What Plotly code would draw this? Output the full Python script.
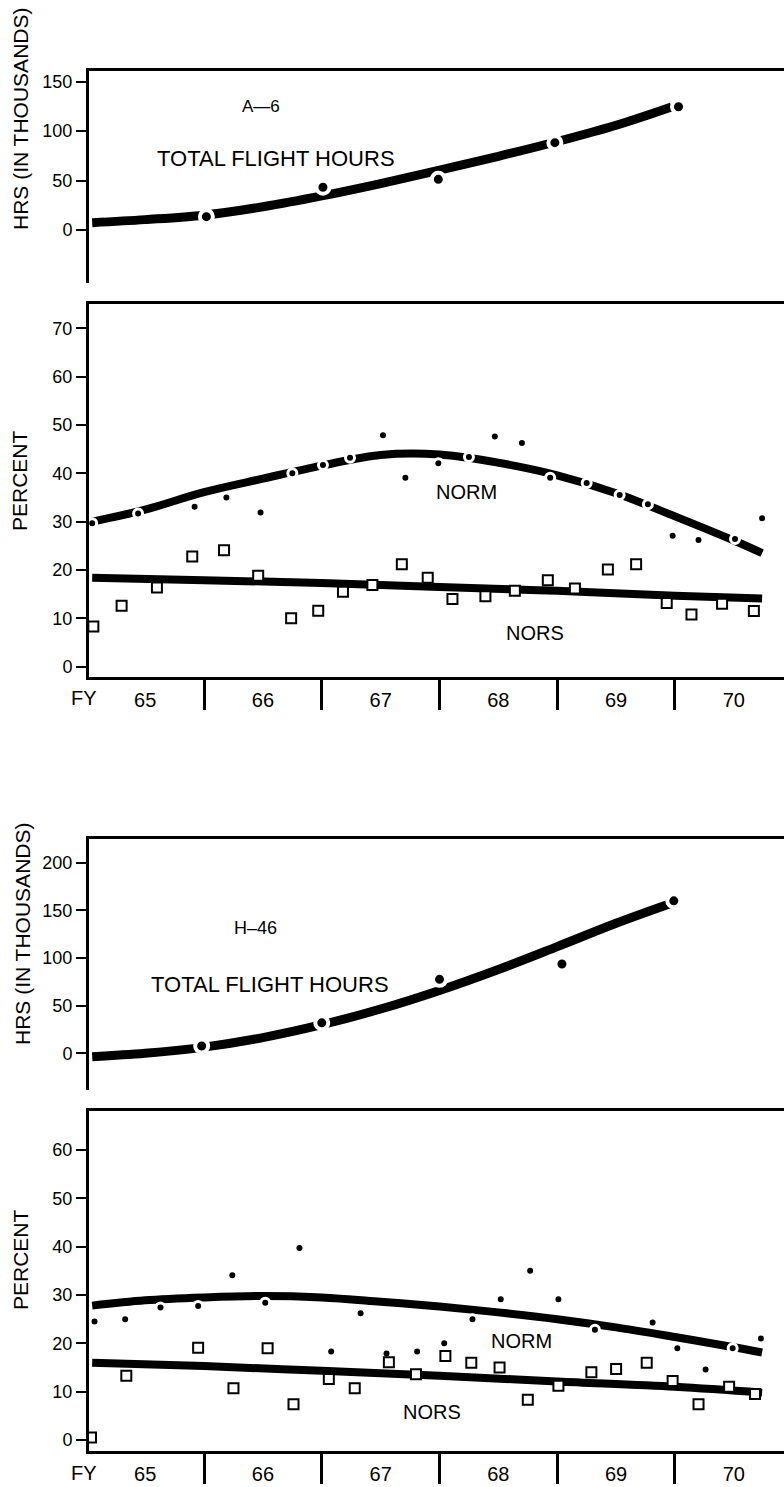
import plotly.graph_objects as go

FONT = "Liberation Sans, Arial, sans-serif"

# Fiscal-year scale: each FY is centred on its integer, boundaries fall on .5
fy_ticks = [65, 66, 67, 68, 69, 70]
fy_labels = ["65", "66", "67", "68", "69", "70"]
fy_bounds = [65.5, 66.5, 67.5, 68.5, 69.5]

# ---------------- A-6 ----------------
# total flight hours (thousands): fitted curve and yearly totals
a6_hrs_fit_x = [64.55, 65.0, 65.5, 66.0, 66.5, 67.0, 67.5, 68.0, 68.5, 69.0, 69.47]
a6_hrs_fit_y = [7.4, 10.5, 15.0, 23.5, 34.5, 47.0, 60.5, 74.5, 89.5, 106.0, 124.5]
a6_hrs_x = [65.52, 66.51, 67.49, 68.48, 69.53]
a6_hrs_y = [13.5, 43.2, 51.2, 88.3, 124.7]

# NORM percent: fitted curve and quarterly values
a6_norm_fit_x = [64.55, 65.0, 65.5, 66.0, 66.5, 67.0, 67.5, 68.0, 68.5, 69.0, 69.5, 70.0, 70.24]
a6_norm_fit_y = [30.0, 32.5, 36.1, 38.9, 41.6, 43.8, 43.9, 42.2, 39.6, 35.9, 31.1, 26.1, 23.5]
a6_norm_x = [64.55, 64.94, 65.42, 65.69, 65.98, 66.25, 66.51, 66.74, 67.02, 67.21, 67.49,
             67.75, 67.97, 68.20, 68.44, 68.75, 69.03, 69.27, 69.48, 69.70, 70.01, 70.24]
a6_norm_y = [29.7, 31.7, 33.1, 35.0, 31.9, 40.0, 41.7, 43.2, 47.9, 39.1, 42.1,
             43.4, 47.6, 46.3, 39.1, 38.0, 35.5, 33.6, 27.1, 26.2, 26.4, 30.7]

# NORS percent: fitted line and quarterly values
a6_nors_fit_x = [64.55, 65.5, 66.5, 67.5, 68.5, 69.5, 70.24]
a6_nors_fit_y = [18.4, 17.9, 17.3, 16.5, 15.7, 14.7, 14.1]
a6_nors_x = [64.56, 64.80, 65.10, 65.40, 65.67, 65.96, 66.24, 66.47, 66.68, 66.93, 67.18, 67.40,
             67.61, 67.89, 68.14, 68.42, 68.65, 68.93, 69.17, 69.43, 69.64, 69.90, 70.17]
a6_nors_y = [8.3, 12.6, 16.4, 22.8, 24.1, 18.8, 10.0, 11.6, 15.5, 16.9, 21.2, 18.4,
             14.0, 14.6, 15.7, 17.9, 16.2, 20.1, 21.2, 13.2, 10.8, 13.0, 11.5]

# ---------------- H-46 ----------------
h46_hrs_fit_x = [64.55, 65.0, 65.5, 66.0, 66.5, 67.0, 67.5, 68.0, 68.5, 69.0, 69.47]
h46_hrs_fit_y = [-3.5, 0.0, 6.5, 16.5, 30.0, 46.5, 66.0, 88.0, 112.0, 136.5, 157.5]
h46_hrs_x = [65.48, 66.50, 67.50, 68.54, 69.49]
h46_hrs_y = [7.7, 32.0, 77.6, 93.7, 160.0]

h46_norm_fit_x = [64.55, 65.0, 65.5, 66.0, 66.5, 67.0, 67.5, 68.0, 68.5, 69.0, 69.5, 70.0, 70.24]
h46_norm_fit_y = [27.8, 28.9, 29.5, 29.8, 29.5, 28.6, 27.6, 26.4, 25.0, 23.3, 21.3, 19.2, 18.1]
h46_norm_x = [64.57, 64.83, 65.13, 65.45, 65.74, 66.02, 66.31, 66.58, 66.83, 67.05, 67.31,
              67.54, 67.78, 68.02, 68.27, 68.51, 68.82, 69.31, 69.52, 69.76, 69.99, 70.23]
h46_norm_y = [24.5, 25.0, 27.4, 27.7, 34.1, 28.4, 39.7, 18.3, 26.2, 17.9, 18.3,
              20.0, 25.0, 29.1, 35.0, 29.1, 22.8, 24.3, 19.0, 14.6, 19.0, 21.0]

h46_nors_fit_x = [64.55, 65.5, 66.5, 67.5, 68.5, 69.5, 70.24]
h46_nors_fit_y = [16.0, 15.3, 14.3, 13.3, 12.1, 11.0, 9.8]
h46_nors_x = [64.54, 64.84, 65.45, 65.75, 66.04, 66.26, 66.56, 66.78, 67.07, 67.30, 67.55,
              67.77, 68.01, 68.25, 68.51, 68.79, 69.00, 69.26, 69.48, 69.70, 69.96, 70.18]
h46_nors_y = [0.5, 13.3, 19.1, 10.7, 19.0, 7.4, 12.6, 10.7, 16.1, 13.6, 17.4,
              16.0, 15.0, 8.3, 11.2, 14.0, 14.7, 16.0, 12.2, 7.4, 11.0, 9.5]

W, H = 784, 1487
X_RANGE = [64.523, 70.426]
X_DOMAIN = [89 / W, 1.0]


def dom(top_px, bottom_px):
    return [1 - bottom_px / H, 1 - top_px / H]


fig = go.Figure()


def fit_line(x, y, n, width=8):
    fig.add_trace(go.Scatter(x=x, y=y, mode="lines", xaxis=f"x{n}", yaxis=f"y{n}",
                             line=dict(color="black", width=width, shape="spline", smoothing=1.0),
                             hoverinfo="skip", showlegend=False))


def dots(x, y, n, size=9, ring=3):
    fig.add_trace(go.Scatter(x=x, y=y, mode="markers", xaxis=f"x{n}", yaxis=f"y{n}",
                             marker=dict(symbol="circle", size=size, color="black",
                                         line=dict(color="white", width=ring)),
                             showlegend=False))


def squares(x, y, n):
    fig.add_trace(go.Scatter(x=x, y=y, mode="markers", xaxis=f"x{n}", yaxis=f"y{n}",
                             marker=dict(symbol="square", size=10, color="white",
                                         line=dict(color="black", width=2)),
                             showlegend=False))


# panel 1: A-6 hours
fit_line(a6_hrs_fit_x, a6_hrs_fit_y, 1, width=9)
dots(a6_hrs_x, a6_hrs_y, 1, size=13, ring=4)
# panel 2: A-6 percent
fit_line(a6_norm_fit_x, a6_norm_fit_y, 2)
fit_line(a6_nors_fit_x, a6_nors_fit_y, 2)
dots(a6_norm_x, a6_norm_y, 2)
squares(a6_nors_x, a6_nors_y, 2)
# panel 3: H-46 hours
fit_line(h46_hrs_fit_x, h46_hrs_fit_y, 3, width=9)
dots(h46_hrs_x, h46_hrs_y, 3, size=13, ring=4)
# panel 4: H-46 percent
fit_line(h46_norm_fit_x, h46_norm_fit_y, 4)
fit_line(h46_nors_fit_x, h46_nors_fit_y, 4)
dots(h46_norm_x, h46_norm_y, 4)
squares(h46_nors_x, h46_nors_y, 4)

tickfont = dict(family=FONT, size=18, color="black")


def yaxis(top, bottom, rng, vals):
    return dict(domain=dom(top, bottom), range=rng, showline=True, linecolor="black",
                linewidth=3, ticks="outside", ticklen=10, tickwidth=2, tickcolor="black",
                tickvals=vals, tickfont=tickfont, showgrid=False, zeroline=False,
                fixedrange=True)


def xaxis_top(n):
    return dict(domain=X_DOMAIN, range=X_RANGE, anchor=f"y{n}", side="top", showline=True,
                linecolor="black", linewidth=3, showticklabels=False, ticks="",
                showgrid=False, zeroline=False)


def xaxis_bottom(n):
    return dict(domain=X_DOMAIN, range=X_RANGE, anchor=f"y{n}", side="bottom", showline=True,
                mirror=True, linecolor="black", linewidth=3,
                tickvals=fy_ticks, ticktext=fy_labels, ticks="outside", ticklen=3,
                tickcolor="rgba(0,0,0,0)", tickfont=dict(family=FONT, size=20, color="black"),
                minor=dict(tickvals=fy_bounds, ticks="outside", ticklen=30, tickwidth=3,
                           tickcolor="black", showgrid=False),
                showgrid=False, zeroline=False)


y1 = yaxis(71, 283, [-53.6, 160.8], [0, 50, 100, 150])
y2 = yaxis(304, 677, [-2.13, 75.03], [0, 10, 20, 30, 40, 50, 60, 70])
y3 = yaxis(839, 1090, [-38.5, 224.9], [0, 50, 100, 150, 200])
y4 = yaxis(1111, 1451, [-2.28, 68.07], [0, 10, 20, 30, 40, 50, 60])
for i, ya in enumerate([y1, y2, y3, y4], start=1):
    ya["anchor"] = f"x{i}"

ann = []


def label(text, x, y, n, size):
    ann.append(dict(text=text, x=x, y=y, xref=f"x{n}", yref=f"y{n}", showarrow=False,
                    xanchor="center", yanchor="middle",
                    font=dict(family=FONT, size=size, color="black")))


def side_title(text, x_px, y_px):
    ann.append(dict(text=text, x=x_px / W, y=1 - y_px / H, xref="paper", yref="paper",
                    showarrow=False, textangle=-90, xanchor="center", yanchor="middle",
                    font=dict(family=FONT, size=21, color="black")))


label("A—6", 65.98, 124.4, 1, 17)
label("TOTAL FLIGHT HOURS", 66.11, 72.8, 1, 22)
label("NORM", 67.73, 36.1, 2, 20)
label("NORS", 68.31, 7.0, 2, 20)
label("H–46", 65.94, 131.5, 3, 18)
label("TOTAL FLIGHT HOURS", 66.06, 71.7, 3, 22)
label("NORM", 68.20, 20.5, 4, 20)
label("NORS", 67.44, 5.8, 4, 20)

side_title("HRS (IN THOUSANDS)", 21, 119)
side_title("PERCENT", 20, 481)
side_title("HRS (IN THOUSANDS)", 22, 934)
side_title("PERCENT", 20, 1260)

for y_px in (698, 1473):
    ann.append(dict(text="FY", x=84 / W, y=1 - y_px / H, xref="paper", yref="paper",
                    showarrow=False, xanchor="center", yanchor="middle",
                    font=dict(family=FONT, size=20, color="black")))

fig.update_layout(
    width=W, height=H, margin=dict(l=0, r=0, t=0, b=0),
    paper_bgcolor="white", plot_bgcolor="white", showlegend=False,
    xaxis=xaxis_top(1), xaxis2=xaxis_bottom(2), xaxis3=xaxis_top(3), xaxis4=xaxis_bottom(4),
    yaxis=y1, yaxis2=y2, yaxis3=y3, yaxis4=y4,
    annotations=ann,
)

fig.write_html("out.html")
